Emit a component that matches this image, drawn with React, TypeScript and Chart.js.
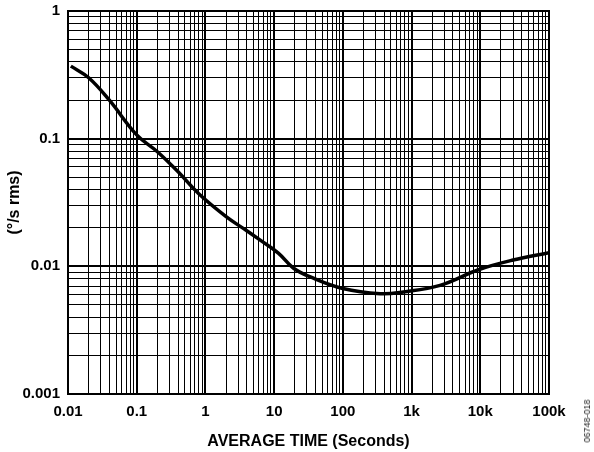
import { useEffect, useRef } from "react";
import Chart from "chart.js/auto";

// average time (s) and rate noise density (°/s rms)
const averageTimes = [
  0.011, 0.02, 0.04, 0.1, 0.2, 0.4, 0.8, 2, 4, 6.2, 11.5, 19, 33, 100, 350, 760,
  2600, 9400, 30000, 100000,
];
const rmsValues = [
  0.37, 0.3, 0.2, 0.107, 0.079, 0.055, 0.037, 0.0245, 0.019, 0.0161, 0.0127,
  0.0097, 0.0083, 0.0067, 0.0061, 0.0063, 0.0071, 0.0094, 0.0112, 0.0128,
];

const xDecades = [0.01, 0.1, 1, 10, 100, 1000, 10000, 100000];
const xDecadeLabels = ["0.01", "0.1", "1", "10", "100", "1k", "10k", "100k"];
const yDecades = [0.001, 0.01, 0.1, 1];
const yDecadeLabels = ["0.001", "0.01", "0.1", "1"];

const FONT = "'Liberation Sans', Arial, Helvetica, sans-serif";

// every 1..9 step inside each decade, for the grid
function logTicks(decades: number[]) {
  const out: { value: number }[] = [];
  decades.forEach((d, i) => {
    if (i === decades.length - 1) {
      out.push({ value: d });
      return;
    }
    for (let k = 1; k <= 9; k++) out.push({ value: +(d * k).toPrecision(6) });
  });
  return out;
}

function isDecade(v: number, list: number[]) {
  return list.some((d) => Math.abs(v / d - 1) < 1e-6);
}

export default function App() {
  const canvasRef = useRef<HTMLCanvasElement>(null);
  const chartRef = useRef<Chart | null>(null);

  useEffect(() => {
    document.body.style.margin = "0";
    if (!canvasRef.current) return;
    if (chartRef.current) chartRef.current.destroy();

    const ctx = canvasRef.current.getContext("2d");
    if (!ctx) return;

    chartRef.current = new Chart(ctx, {
      type: "line",
      data: {
        datasets: [
          {
            data: averageTimes.map((t, i) => ({ x: t, y: rmsValues[i] })),
            borderColor: "#000",
            borderWidth: 3.5,
            pointRadius: 0,
            tension: 0.4,
            fill: false,
          },
        ],
      },
      options: {
        animation: false,
        responsive: true,
        maintainAspectRatio: false,
        layout: { padding: { left: 0, top: 11, right: 45, bottom: 0 } },
        plugins: {
          legend: { display: false },
          tooltip: { enabled: false },
        },
        scales: {
          x: {
            type: "logarithmic",
            min: 0.01,
            max: 100000,
            afterFit: (scale: any) => {
              scale.height = 58;
              scale.paddingLeft = 0;
              scale.paddingRight = 0;
            },
            afterBuildTicks: (scale: any) => {
              scale.ticks = logTicks(xDecades);
            },
            border: { color: "#000", width: 2 },
            grid: {
              color: "#000",
              drawTicks: false,
              lineWidth: (c: any) => (isDecade(c.tick.value, xDecades) ? 2 : 1),
            },
            ticks: {
              autoSkip: false,
              maxRotation: 0,
              padding: 9,
              color: "#000",
              font: { family: FONT, size: 15, weight: "bold" },
              callback: (v: any) => {
                const i = xDecades.findIndex((d) => Math.abs(v / d - 1) < 1e-6);
                return i >= 0 ? xDecadeLabels[i] : "";
              },
            },
            title: {
              display: true,
              text: "AVERAGE TIME (Seconds)",
              color: "#000",
              font: { family: FONT, size: 16, weight: "bold" },
              padding: { top: 0, bottom: 1 },
            },
          },
          y: {
            type: "logarithmic",
            min: 0.001,
            max: 1,
            afterFit: (scale: any) => {
              scale.width = 68;
              scale.paddingTop = 0;
              scale.paddingBottom = 0;
            },
            afterBuildTicks: (scale: any) => {
              scale.ticks = logTicks(yDecades);
            },
            border: { color: "#000", width: 2 },
            grid: {
              color: "#000",
              drawTicks: false,
              lineWidth: (c: any) => (isDecade(c.tick.value, yDecades) ? 2 : 1),
            },
            ticks: {
              autoSkip: false,
              padding: 8,
              color: "#000",
              font: { family: FONT, size: 15, weight: "bold" },
              callback: (v: any) => {
                const i = yDecades.findIndex((d) => Math.abs(v / d - 1) < 1e-6);
                return i >= 0 ? yDecadeLabels[i] : "";
              },
            },
            title: {
              display: true,
              text: "(°/s rms)",
              color: "#000",
              font: { family: FONT, size: 16, weight: "bold" },
              padding: { top: 5, bottom: 0 },
            },
          },
        },
      },
      plugins: [
        {
          // border on the right and top of the plot area
          id: "frame",
          afterDraw(chart: any) {
            const { ctx, chartArea: a } = chart;
            ctx.save();
            ctx.strokeStyle = "#000";
            ctx.lineWidth = 2;
            ctx.strokeRect(a.left, a.top, a.right - a.left, a.bottom - a.top);
            ctx.restore();
          },
        },
      ],
    } as any);

    return () => {
      if (chartRef.current) {
        chartRef.current.destroy();
        chartRef.current = null;
      }
    };
  }, []);

  return (
    <div style={{ position: "relative", width: 594, height: 452, background: "#fff" }}>
      <canvas ref={canvasRef}></canvas>
      <div
        style={{
          position: "absolute",
          left: 587,
          top: 421,
          transform: "translate(-50%, -50%) rotate(-90deg)",
          fontFamily: FONT,
          fontSize: 9,
          color: "#222",
          whiteSpace: "nowrap",
        }}
      >
        06748-018
      </div>
    </div>
  );
}
